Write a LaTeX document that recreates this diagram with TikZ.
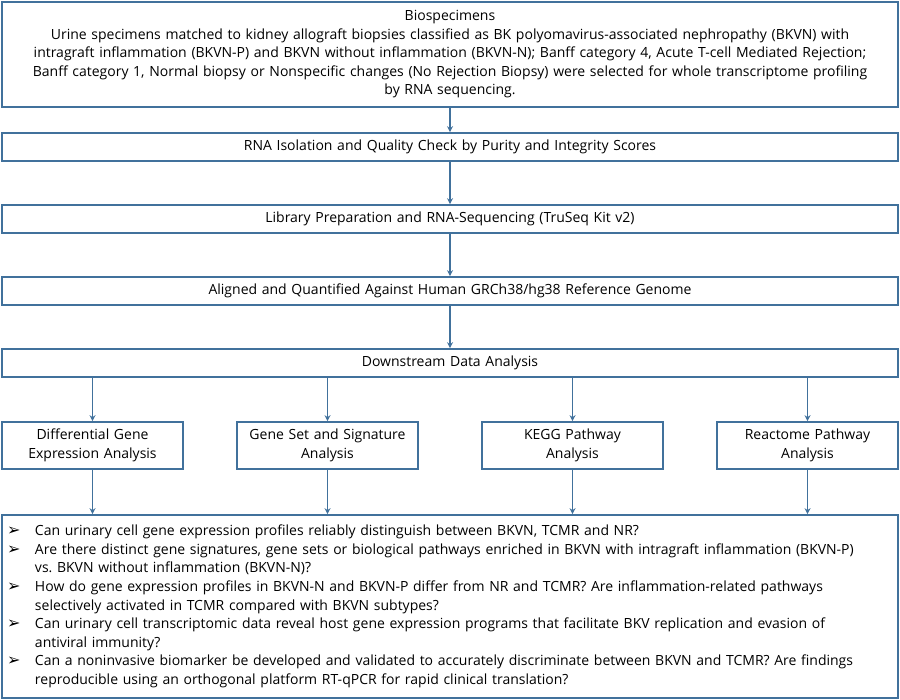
\documentclass[tikz,border=0pt]{standalone}
\usepackage{fontspec}
\setmainfont{Open Sans}
\newfontfamily\symfont{DejaVu Sans}
\usepackage{tikz}
\usetikzlibrary{calc, arrows.meta, positioning}
\definecolor{boxblue}{RGB}{65,113,156}
\newcommand{\qitem}{\makebox[28pt][l]{\symfont\fontsize{16}{16}\selectfont ➢}}
\newcommand{\qcont}{\hspace*{28pt}}
\frenchspacing

\begin{document}
\begin{tikzpicture}[x=1pt, y=-1pt,
        box/.style={draw=boxblue, line width=1.6pt, inner sep=0pt, font=\fontsize{14}{18.5}\selectfont},
        wide/.style={box, minimum width=896pt, minimum height=28pt, align=center, text width=880pt},
        small/.style={box, minimum width=181pt, minimum height=47pt, align=center, text width=175pt},
        flow/.style={-{Stealth[length=6pt,width=6pt]}, draw=boxblue, line width=1.2pt}]
        \useasboundingbox (0,0) rectangle (900,700);

        \node[wide, minimum height=105pt] (bio) at (450,54.5) {Biospecimens\\
            Urine specimens matched to kidney allograft biopsies classified as BK polyomavirus-associated nephropathy (BKVN) with\\
            intragraft inflammation (BKVN-P) and BKVN without inflammation (BKVN-N); Banff category 4, Acute T-cell Mediated Rejection;\\
            Banff category 1, Normal biopsy or Nonspecific changes (No Rejection Biopsy) were selected for whole transcriptome profiling\\
            by RNA sequencing.};
        \node[wide] (rna) at (450,147) {RNA Isolation and Quality Check by Purity and Integrity Scores};
        \node[wide] (lib) at (450,219) {Library Preparation and RNA-Sequencing (TruSeq Kit v2)};
        \node[wide] (aln) at (450,291) {Aligned and Quantified Against Human GRCh38/hg38 Reference Genome};
        \node[wide] (down) at (450,363) {Downstream Data Analysis};

        \node[small] (dge) at (92.5,445.5) {Differential Gene\\ Expression Analysis};
        \node[small] (gsa) at (327.5,445.5) {Gene Set and Signature\\ Analysis};
        \node[small] (kegg) at (572.5,445.5) {KEGG Pathway\\ Analysis};
        \node[small] (react) at (807.5,445.5) {Reactome Pathway\\ Analysis};

        \node[box, minimum width=896pt, minimum height=183pt, align=left, text width=886pt,
            font=\fontsize{14}{18.6}\selectfont] (q) at (450,606.5) {%
            \qitem Can urinary cell gene expression profiles reliably distinguish between BKVN, TCMR and NR?\\
            \qitem Are there distinct gene signatures, gene sets or biological pathways enriched in BKVN with intragraft inflammation (BKVN-P)\\
            \qcont vs. BKVN without inflammation (BKVN-N)?\\
            \qitem How do gene expression profiles in BKVN-N and BKVN-P differ from NR and TCMR? Are inflammation-related pathways\\
            \qcont selectively activated in TCMR compared with BKVN subtypes?\\
            \qitem Can urinary cell transcriptomic data reveal host gene expression programs that facilitate BKV replication and evasion of\\
            \qcont antiviral immunity?\\
            \qitem Can a noninvasive biomarker be developed and validated to accurately discriminate between BKVN and TCMR? Are findings\\
            \qcont reproducible using an orthogonal platform RT-qPCR for rapid clinical translation?};

        \draw[flow] (bio) -- (rna);
        \draw[flow] (rna) -- (lib);
        \draw[flow] (lib) -- (aln);
        \draw[flow] (aln) -- (down);
        \foreach \n in {dge, gsa, kegg, react} {
            \draw[flow] (down.south -| \n) -- (\n);
            \draw[flow] (\n) -- (q.north -| \n);
        }
    \end{tikzpicture}
\end{document}
